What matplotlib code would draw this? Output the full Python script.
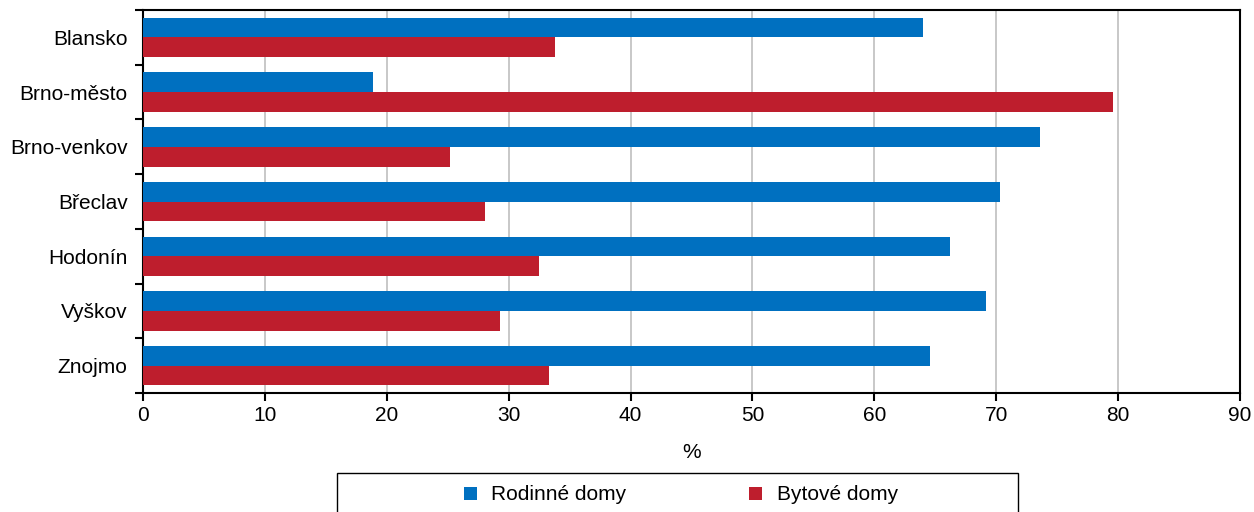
import numpy as np
import matplotlib
matplotlib.use("Agg")
import matplotlib.pyplot as plt
from matplotlib.patches import Rectangle

plt.rcParams['font.family'] = ['Liberation Sans', 'DejaVu Sans']

okresy = ["Blansko", "Brno-město", "Brno-venkov", "Břeclav", "Hodonín", "Vyškov", "Znojmo"]
rodinne = [64.0, 18.9, 73.6, 70.3, 66.2, 69.2, 64.6]
bytove = [33.8, 79.6, 25.2, 28.1, 32.5, 29.3, 33.3]

modra = "#0070c0"
cervena = "#be1e2d"

fig = plt.figure(figsize=(12.54, 5.12), dpi=100)
ax = fig.add_axes([0.114, 0.2324, 0.8748, 0.748])

y = np.arange(len(okresy))
h = 0.36
ax.barh(y - h / 2, rodinne, height=h, color=modra, label="Rodinné domy", zorder=3)
ax.barh(y + h / 2, bytove, height=h, color=cervena, label="Bytové domy", zorder=3)

ax.set_ylim(len(okresy) - 0.5, -0.5)
ax.set_yticks(y)
ax.set_yticklabels(okresy)
ax.set_yticks(np.arange(len(okresy) + 1) - 0.5, minor=True)
ax.tick_params(axis="y", which="major", length=0, labelsize=15, pad=11)
ax.tick_params(axis="y", which="minor", length=6, width=1.5, direction="out")

ax.set_xlim(0, 90)
ax.set_xticks(np.arange(0, 91, 10))
ax.tick_params(axis="x", length=6, width=1.5, direction="out", labelsize=15, pad=3)
ax.set_xlabel("%", fontsize=15, labelpad=13)
ax.grid(axis="x", color="#bfbfbf", linewidth=1.2, zorder=0)

for s in ax.spines.values():
    s.set_linewidth(1.5)

# ramecek legendy (presahuje spodni okraj)
fig.patches.append(Rectangle((337 / 1254, -0.02), 681 / 1254, 39 / 512 + 0.02,
                             transform=fig.transFigure, fill=False,
                             edgecolor="black", linewidth=1.0))
fig.legend(*ax.get_legend_handles_labels(), loc="center",
           bbox_to_anchor=(681 / 1254, 1 - 495 / 512), ncol=2, frameon=False,
           fontsize=15, handlelength=0.6, handleheight=0.6,
           columnspacing=5.9, handletextpad=0.7)

fig.savefig("out.png", dpi=100)
